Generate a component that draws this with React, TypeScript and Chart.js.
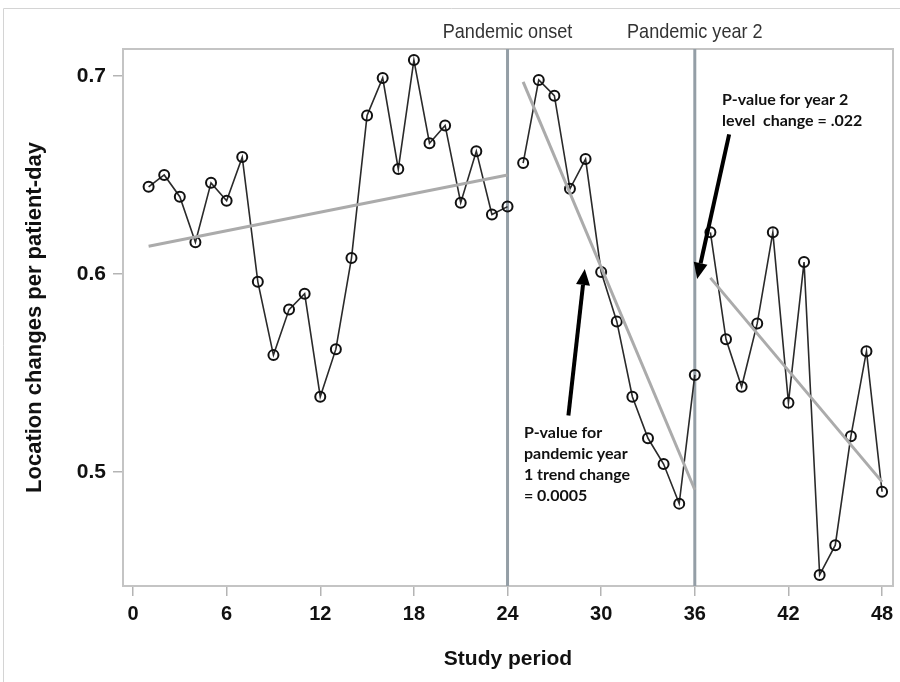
import React, { useEffect, useRef } from "react";
import { Chart, registerables } from "chart.js";

Chart.register(...registerables);

// ---- data ----
const periodsPre = [1, 2, 3, 4, 5, 6, 7, 8, 9, 10, 11, 12, 13, 14, 15, 16, 17, 18, 19, 20, 21, 22, 23, 24];
const ratesPre = [0.644, 0.65, 0.639, 0.616, 0.646, 0.637, 0.659, 0.596, 0.559, 0.582, 0.59, 0.538, 0.562, 0.608, 0.68, 0.699, 0.653, 0.708, 0.666, 0.675, 0.636, 0.662, 0.63, 0.634];

const periodsYear1 = [25, 26, 27, 28, 29, 30, 31, 32, 33, 34, 35, 36];
const ratesYear1 = [0.656, 0.698, 0.69, 0.643, 0.658, 0.601, 0.576, 0.538, 0.517, 0.504, 0.484, 0.549];

const periodsYear2 = [37, 38, 39, 40, 41, 42, 43, 44, 45, 46, 47, 48];
const ratesYear2 = [0.621, 0.567, 0.543, 0.575, 0.621, 0.535, 0.606, 0.448, 0.463, 0.518, 0.561, 0.49];

const trendPreX = [1, 24];
const trendPreY = [0.614, 0.65];
const trendYear1X = [25, 36];
const trendYear1Y = [0.697, 0.491];
const trendYear2X = [37, 48];
const trendYear2Y = [0.598, 0.495];

const xTicks = [0, 6, 12, 18, 24, 30, 36, 42, 48];
const yTicks = [0.5, 0.6, 0.7];

const eventPeriods = [24, 36];
const eventLabels = ["Pandemic onset", "Pandemic year 2"];

const noteLevelLines = ["P-value for year 2", "level  change = .022"];
const noteTrendLines = ["P-value for", "pandemic year", "1 trend change", "= 0.0005"];

const xTitle = "Study period";
const yTitle = "Location changes per patient-day";

// ---- helpers ----
const pts = (xs: number[], ys: number[]) => xs.map((x, i) => ({ x, y: ys[i] }));

function drawArrow(ctx: CanvasRenderingContext2D, x1: number, y1: number, x2: number, y2: number) {
  const ang = Math.atan2(y2 - y1, x2 - x1);
  const headLen = 16;
  const headW = 7;
  const bx = x2 - headLen * Math.cos(ang);
  const by = y2 - headLen * Math.sin(ang);
  ctx.save();
  ctx.strokeStyle = "#000";
  ctx.fillStyle = "#000";
  ctx.lineWidth = 4;
  ctx.beginPath();
  ctx.moveTo(x1, y1);
  ctx.lineTo(bx, by);
  ctx.stroke();
  ctx.beginPath();
  ctx.moveTo(x2, y2);
  ctx.lineTo(bx + headW * Math.sin(ang), by - headW * Math.cos(ang));
  ctx.lineTo(bx - headW * Math.sin(ang), by + headW * Math.cos(ang));
  ctx.closePath();
  ctx.fill();
  ctx.restore();
}

const decorPlugin = {
  id: "decor",
  beforeDatasetsDraw(chart: any) {
    const { ctx, chartArea, scales } = chart;
    const xs = scales.x;
    ctx.save();
    // plot frame
    ctx.strokeStyle = "#c4c4c4";
    ctx.lineWidth = 2;
    ctx.strokeRect(chartArea.left, chartArea.top, chartArea.right - chartArea.left, chartArea.bottom - chartArea.top);
    // event lines
    ctx.strokeStyle = "#949ea6";
    ctx.lineWidth = 3;
    eventPeriods.forEach((p) => {
      const px = xs.getPixelForValue(p);
      ctx.beginPath();
      ctx.moveTo(px, chartArea.top);
      ctx.lineTo(px, chartArea.bottom);
      ctx.stroke();
    });
    // event labels (condensed look)
    ctx.fillStyle = "#333";
    ctx.font = '21px "Liberation Sans", Arial';
    ctx.textAlign = "center";
    ctx.textBaseline = "middle";
    eventPeriods.forEach((p, i) => {
      const cx = xs.getPixelForValue(p);
      ctx.save();
      ctx.translate(cx, chartArea.top - 17);
      ctx.scale(0.86, 1);
      ctx.fillText(eventLabels[i], 0, 0);
      ctx.restore();
    });
    // outer frame
    ctx.strokeStyle = "#d4d4d4";
    ctx.lineWidth = 1;
    ctx.beginPath();
    ctx.moveTo(3.5, 682);
    ctx.lineTo(3.5, 8.5);
    ctx.lineTo(900, 8.5);
    ctx.stroke();
    ctx.restore();
  },
  afterDatasetsDraw(chart: any) {
    const { ctx, scales } = chart;
    const xs = scales.x;
    const ys = scales.y;
    ctx.save();
    ctx.fillStyle = "#111";
    ctx.font = 'bold 16px Lato, "Open Sans", Arial';
    ctx.textAlign = "left";
    ctx.textBaseline = "middle";
    const lx1 = xs.getPixelForValue(37.75);
    const ly1 = ys.getPixelForValue(0.688);
    noteLevelLines.forEach((t, i) => ctx.fillText(t, lx1, ly1 + i * 21));
    const lx2 = xs.getPixelForValue(25.05);
    const ly2 = ys.getPixelForValue(0.5195);
    noteTrendLines.forEach((t, i) => ctx.fillText(t, lx2, ly2 + i * 21));
    drawArrow(ctx, xs.getPixelForValue(38.2), ys.getPixelForValue(0.6705), xs.getPixelForValue(36.15), ys.getPixelForValue(0.5975));
    drawArrow(ctx, xs.getPixelForValue(27.9), ys.getPixelForValue(0.5285), xs.getPixelForValue(28.95), ys.getPixelForValue(0.6025));
    ctx.restore();
  },
};

export default function App() {
  const ref = useRef<HTMLCanvasElement | null>(null);

  useEffect(() => {
    if (!ref.current) return;
    const dataStyle = {
      type: "line" as const,
      borderColor: "#2a2a2a",
      borderWidth: 1.6,
      pointRadius: 5,
      pointBorderWidth: 2,
      pointBorderColor: "#111",
      pointBackgroundColor: "rgba(255,255,255,0)",
      tension: 0,
      order: 2,
    };
    const trendStyle = {
      type: "line" as const,
      borderColor: "#ababab",
      borderWidth: 3,
      pointRadius: 0,
      tension: 0,
      order: 1,
    };
    const chart = new Chart(ref.current, {
      type: "line",
      data: {
        datasets: [
          { ...dataStyle, data: pts(periodsPre, ratesPre) },
          { ...dataStyle, data: pts(periodsYear1, ratesYear1) },
          { ...dataStyle, data: pts(periodsYear2, ratesYear2) },
          { ...trendStyle, data: pts(trendPreX, trendPreY) },
          { ...trendStyle, data: pts(trendYear1X, trendYear1Y) },
          { ...trendStyle, data: pts(trendYear2X, trendYear2Y) },
        ],
      },
      options: {
        animation: false,
        responsive: false,
        maintainAspectRatio: false,
        layout: { padding: { left: 18, right: 7, top: 49, bottom: 6 } },
        plugins: { legend: { display: false }, tooltip: { enabled: false } },
        scales: {
          x: {
            type: "linear",
            min: -0.64,
            max: 48.7,
            afterBuildTicks: (s: any) => {
              s.ticks = xTicks.map((v) => ({ value: v }));
            },
            afterFit: (s: any) => {
              s.height = 90;
            },
            grid: { drawOnChartArea: false, drawTicks: true, tickLength: 10, color: "#b4b4b4", lineWidth: 1.5 },
            border: { display: false },
            ticks: {
              color: "#111",
              padding: 6,
              maxRotation: 0,
              autoSkip: false,
              font: { family: '"Liberation Sans", Arial', weight: "bold", size: 20 },
            },
            title: {
              display: true,
              text: xTitle,
              color: "#111",
              padding: { top: 4, bottom: 4 },
              font: { family: '"Liberation Sans", Arial', weight: "bold", size: 21 },
            },
          },
          y: {
            type: "linear",
            min: 0.4424,
            max: 0.7136,
            afterBuildTicks: (s: any) => {
              s.ticks = yTicks.map((v) => ({ value: v }));
            },
            afterFit: (s: any) => {
              s.width = 105;
            },
            grid: { drawOnChartArea: false, drawTicks: true, tickLength: 10, color: "#b4b4b4", lineWidth: 1.5 },
            border: { display: false },
            ticks: {
              color: "#111",
              padding: 7,
              callback: (v: any) => Number(v).toFixed(1),
              font: { family: '"Liberation Sans", Arial', weight: "bold", size: 21 },
            },
            title: {
              display: true,
              text: yTitle,
              color: "#111",
              padding: { top: 4, bottom: 4 },
              font: { family: '"Liberation Sans", Arial', weight: "bold", size: 22 },
            },
          },
        },
      },
      plugins: [decorPlugin],
    } as any);
    return () => chart.destroy();
  }, []);

  return (
    <div style={{ position: "fixed", left: 0, top: 0, width: 900, height: 682, background: "#fff" }}>
      <canvas ref={ref} width={900} height={682} style={{ width: 900, height: 682, display: "block" }} />
    </div>
  );
}
